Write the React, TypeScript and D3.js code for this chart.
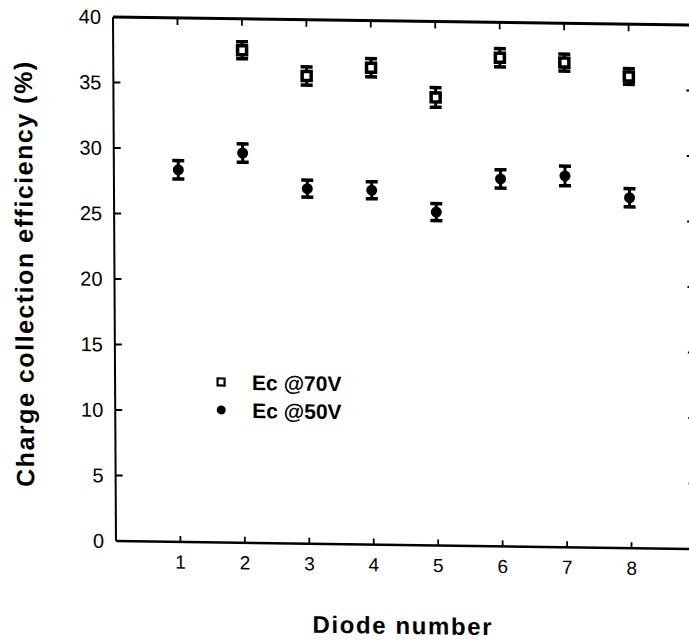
import React from "react";
import * as d3 from "d3";

const diodes70 = [2, 3, 4, 5, 6, 7, 8];
const eff70 = [37.6, 35.7, 36.4, 34.2, 37.3, 37.0, 36.0];
const err70 = [0.65, 0.7, 0.7, 0.75, 0.7, 0.65, 0.6];

const diodes50 = [1, 2, 3, 4, 5, 6, 7, 8];
const eff50 = [28.4, 29.75, 27.1, 27.05, 25.45, 28.05, 28.35, 26.75];
const err50 = [0.7, 0.7, 0.65, 0.65, 0.65, 0.7, 0.75, 0.7];

const xTicks = [1, 2, 3, 4, 5, 6, 7, 8];
const yTicks = [0, 5, 10, 15, 20, 25, 30, 35, 40];
const legendLabels = ["Ec @70V", "Ec @50V"];
const xTitle = "Diode number";
const yTitle = "Charge collection efficiency (%)";

const W = 689;
const H = 642;
const PW = 580;
const PH = 524;

export default function App() {
  const x = d3.scaleLinear().domain([0, 9]).range([0, PW]);
  const y = d3.scaleLinear().domain([0, 40]).range([PH, 0]);
  const font = "'Liberation Sans', Arial, Helvetica, sans-serif";
  const cap = 6;

  const errBar = (cx: number, v: number, e: number, key: string) => {
    const y0 = y(v - e);
    const y1 = y(v + e);
    return (
      <g key={key} stroke="#000">
        <line x1={cx} x2={cx} y1={y0} y2={y1} strokeWidth={3} />
        <line x1={cx - cap} x2={cx + cap} y1={y0} y2={y0} strokeWidth={3.5} />
        <line x1={cx - cap} x2={cx + cap} y1={y1} y2={y1} strokeWidth={3.5} />
      </g>
    );
  };

  return (
    <svg
      width={W}
      height={H}
      style={{ position: "absolute", left: 0, top: 0, background: "#fff" }}
    >
      <rect x={0} y={0} width={W} height={H} fill="#fff" />
      <g transform="matrix(1,0.0139,0.0057,1,113,17)" fontFamily={font}>
        {/* frame */}
        <line x1={0} x2={PW} y1={0} y2={0} stroke="#000" strokeWidth={3} />
        <line x1={0} x2={PW} y1={PH} y2={PH} stroke="#000" strokeWidth={2.5} />
        <line x1={0} x2={0} y1={0} y2={PH} stroke="#000" strokeWidth={2} />
        <line x1={PW} x2={PW} y1={0} y2={PH} stroke="#000" strokeWidth={2} />

        {/* x ticks */}
        {xTicks.map((t) => (
          <g key={"xt" + t}>
            <line x1={x(t)} x2={x(t)} y1={0} y2={7} stroke="#000" strokeWidth={1.8} />
            <line x1={x(t)} x2={x(t)} y1={PH} y2={PH - 6} stroke="#000" strokeWidth={1.8} />
            <text
              x={x(t)}
              y={544}
              dy="0.35em"
              textAnchor="middle"
              fontSize={19}
              fill="#000"
            >
              {t}
            </text>
          </g>
        ))}

        {/* y ticks */}
        {yTicks.map((t) => (
          <g key={"yt" + t}>
            {t > 0 && t < 40 && (
              <>
                <line x1={0} x2={7} y1={y(t)} y2={y(t)} stroke="#000" strokeWidth={2} />
                <line x1={PW} x2={PW - 7} y1={y(t)} y2={y(t)} stroke="#000" strokeWidth={2} />
              </>
            )}
            <text
              x={-12}
              y={y(t)}
              dy="0.35em"
              textAnchor="end"
              fontSize={20}
              fill="#000"
            >
              {t}
            </text>
          </g>
        ))}

        {/* 70V series: error bars + open squares */}
        {diodes70.map((d, i) => errBar(x(d), eff70[i], err70[i], "e70" + i))}
        {diodes70.map((d, i) => (
          <rect
            key={"s70" + i}
            x={x(d) - 4.5}
            y={y(eff70[i]) - 4.5}
            width={9}
            height={9}
            fill="#fff"
            stroke="#000"
            strokeWidth={3.5}
          />
        ))}

        {/* 50V series: error bars + filled markers */}
        {diodes50.map((d, i) => errBar(x(d), eff50[i], err50[i], "e50" + i))}
        {diodes50.map((d, i) => (
          <circle key={"c50" + i} cx={x(d)} cy={y(eff50[i])} r={5.5} fill="#000" />
        ))}

        {/* legend */}
        <rect x={106 - 3.5} y={363.5 - 3.5} width={7} height={7} fill="#fff" stroke="#000" strokeWidth={2.2} />
        <circle cx={106} cy={391.5} r={4.5} fill="#000" />
        <text x={137} y={363.5} dy="0.36em" fontSize={21} fontWeight="bold" fill="#000">
          {legendLabels[0]}
        </text>
        <text x={137} y={391.5} dy="0.36em" fontSize={21} fontWeight="bold" fill="#000">
          {legendLabels[1]}
        </text>

        {/* axis titles */}
        <text
          x={285.5}
          y={613}
          textAnchor="middle"
          fontSize={24}
          fontWeight="bold"
          textLength={179}
          lengthAdjust="spacing"
          fill="#000"
        >
          {xTitle}
        </text>
        <text
          transform={`translate(-81.5,258.6) rotate(-90)`}
          x={0}
          y={0}
          textAnchor="middle"
          fontSize={25}
          fontWeight="bold"
          textLength={425}
          lengthAdjust="spacing"
          fill="#000"
        >
          {yTitle}
        </text>
      </g>
    </svg>
  );
}
